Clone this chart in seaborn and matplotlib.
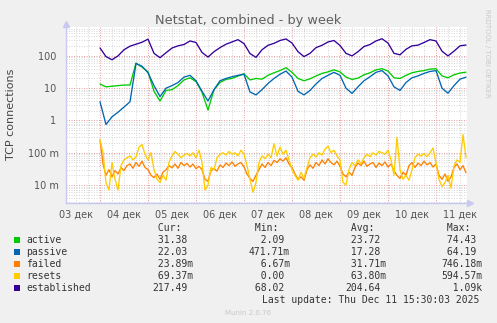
import numpy as np
import pandas as pd
import matplotlib
matplotlib.use('Agg')
import matplotlib.pyplot as plt
import matplotlib.dates as mdates
import matplotlib.ticker as mticker
from matplotlib.patches import Rectangle
import seaborn as sns

sns.set_theme(style='white')
plt.rcParams['font.family'] = ['DejaVu Sans']

# ---------------- data ----------------
start = pd.Timestamp('2025-12-04 00:00')
t_3h = pd.date_range(start, periods=62, freq='3h')
t_90m = pd.date_range(start, periods=123, freq='90min')

active = [13.5, 11, 11.5, 12, 12.5, 12.5, 60, 45, 32, 8, 4, 8.5, 9, 12, 18, 21,
          16, 7.5, 2.1, 9, 15, 18.7, 20, 23.7, 28, 18, 20, 19, 25, 30, 35, 43,
          31, 20, 17, 19.5, 24, 28.7, 32, 37, 32, 22, 18.7, 20.5, 26, 30, 37, 40,
          34, 21, 20, 25, 30, 33, 35, 39, 40, 24, 21, 26, 29.5, 31.4]
passive = [3.8, 0.75, 1.3, 1.8, 2.6, 3.8, 58, 48, 30, 12, 5.5, 10, 12, 15, 22, 25,
           17, 8, 4, 9, 17, 20, 22.6, 25, 27, 7.6, 6.2, 9, 14, 20, 27, 34,
           22, 8, 6.2, 8.5, 13.5, 20, 25, 31, 25, 10, 6.9, 11, 17, 22.6, 31, 35,
           24, 11, 8.5, 15, 21, 24, 28.7, 33, 35, 10, 7, 12, 19, 22]
established = [176, 95, 76, 100, 155, 200, 230, 265, 330, 120, 88, 125, 175, 205, 225, 290,
               260, 128, 92, 135, 180, 230, 270, 318, 240, 118, 90, 155, 213, 245, 300, 335,
               250, 135, 95, 120, 180, 213, 270, 300, 210, 120, 100, 135, 195, 225, 290, 340,
               250, 120, 108, 160, 205, 215, 260, 318, 290, 140, 100, 140, 205, 217]
failed = [0.25, 0.045, 0.02, 0.03, 0.018, 0.028, 0.022, 0.035, 0.028, 0.04, 0.045, 0.033,
          0.05, 0.038, 0.055, 0.035, 0.03, 0.02, 0.017, 0.022, 0.015, 0.025, 0.03, 0.04,
          0.034, 0.045, 0.033, 0.05, 0.04, 0.047, 0.036, 0.045, 0.032, 0.038, 0.03, 0.015,
          0.013, 0.028, 0.032, 0.027, 0.042, 0.035, 0.048, 0.04, 0.052, 0.038, 0.045, 0.05,
          0.036, 0.022, 0.016, 0.013, 0.02, 0.03, 0.045, 0.035, 0.05, 0.04, 0.058, 0.05,
          0.065, 0.055, 0.07, 0.045, 0.035, 0.022, 0.015, 0.018, 0.014, 0.03, 0.042, 0.033,
          0.05, 0.04, 0.06, 0.045, 0.065, 0.05, 0.042, 0.055, 0.038, 0.022, 0.018, 0.025,
          0.02, 0.035, 0.048, 0.04, 0.055, 0.038, 0.045, 0.05, 0.035, 0.048, 0.04, 0.052,
          0.036, 0.045, 0.028, 0.02, 0.016, 0.025, 0.02, 0.04, 0.05, 0.035, 0.048, 0.04,
          0.055, 0.042, 0.05, 0.036, 0.045, 0.02, 0.015, 0.022, 0.013, 0.018, 0.035, 0.045,
          0.03, 0.04, 0.024]
resets = [0.25, 0.1, 0.012, 0.007, 0.05, 0.015, 0.007, 0.04, 0.06, 0.07, 0.08, 0.06,
          0.075, 0.15, 0.18, 0.09, 0.06, 0.1, 0.03, 0.015, 0.012, 0.02, 0.014, 0.05,
          0.08, 0.11, 0.09, 0.07, 0.085, 0.095, 0.08, 0.1, 0.07, 0.12, 0.05, 0.007,
          0.01, 0.035, 0.03, 0.07, 0.09, 0.1, 0.085, 0.11, 0.09, 0.1, 0.08, 0.12,
          0.09, 0.04, 0.015, 0.006, 0.012, 0.05, 0.08, 0.065, 0.09, 0.07, 0.19, 0.08,
          0.15, 0.09, 0.12, 0.06, 0.03, 0.02, 0.014, 0.025, 0.016, 0.035, 0.07, 0.09,
          0.075, 0.1, 0.085, 0.13, 0.16, 0.1, 0.12, 0.08, 0.06, 0.012, 0.01, 0.03,
          0.05, 0.04, 0.06, 0.045, 0.07, 0.09, 0.075, 0.1, 0.085, 0.11, 0.1, 0.09,
          0.12, 0.06, 0.02, 0.3, 0.03, 0.015, 0.02, 0.014, 0.03, 0.07, 0.09, 0.08,
          0.095, 0.075, 0.1, 0.14, 0.05, 0.015, 0.009, 0.012, 0.02, 0.008, 0.04, 0.06,
          0.05, 0.37, 0.07]

series_names = ['active', 'passive', 'failed', 'resets', 'established']
series_colors = ['#00CC00', '#0066B3', '#FF8000', '#FFCC00', '#330099']
cur_vals = ['31.38', '22.03', '23.89m', '69.37m', '217.49']
min_vals = ['2.09', '471.71m', '6.67m', '0.00', '68.02']
avg_vals = ['23.72', '17.28', '31.71m', '63.80m', '204.64']
max_vals = ['74.43', '64.19', '746.18m', '594.57m', '1.09k']
day_labels = ['03 дек', '04 дек', '05 дек', '06 дек', '07 дек', '08 дек', '09 дек', '10 дек', '11 дек']
ytick_vals = [0.01, 0.1, 1, 10, 100]
ytick_labels = ['10 m', '100 m', '1 ', '10 ', '100 ']

# ---------------- figure ----------------
W, H = 497, 323
fig = plt.figure(figsize=(W / 100, H / 100), dpi=100, facecolor='#F0F0F0')
L, R, T, B = 66, 467, 27, 203
ax = fig.add_axes([L / W, 1 - B / H, (R - L) / W, (B - T) / H])
ax.set_facecolor('white')

series_data = [(t_3h, active), (t_3h, passive), (t_90m, failed), (t_90m, resets), (t_3h, established)]
for (tt, vv), c in zip(series_data, series_colors):
    sns.lineplot(x=tt, y=vv, color=c, lw=0.95, ax=ax, legend=False)

ax.set_yscale('log')
ax.set_ylim(0.00278, 785)
ax.set_xlim(pd.Timestamp('2025-12-03 07:00'), pd.Timestamp('2025-12-11 15:30'))

ax.yaxis.set_major_locator(mticker.FixedLocator(ytick_vals))
ax.yaxis.set_major_formatter(mticker.FixedFormatter(ytick_labels))
ax.yaxis.set_minor_locator(mticker.LogLocator(base=10, subs=np.arange(2, 10)))
ax.yaxis.set_minor_formatter(mticker.NullFormatter())

midnights = pd.date_range('2025-12-04', '2025-12-11', freq='D')
six_h = pd.date_range('2025-12-03 06:00', '2025-12-11 18:00', freq='6h')
six_h = [t for t in six_h if t.hour != 0]
noon_label = {pd.Timestamp(2025, 12, 3 + i, 12): lab for i, lab in enumerate(day_labels)}
ax.xaxis.set_major_locator(mticker.FixedLocator(mdates.date2num(midnights)))
ax.xaxis.set_major_formatter(mticker.NullFormatter())
ax.xaxis.set_minor_locator(mticker.FixedLocator(mdates.date2num(six_h)))
ax.xaxis.set_minor_formatter(mticker.FixedFormatter([noon_label.get(t, '') for t in six_h]))

ax.set_axisbelow(True)
ax.grid(which='minor', color='#D8D8D8', linestyle=(0, (1, 1.5)), lw=0.72)
ax.grid(which='major', color='#E8A0A0', linestyle=(0, (1, 1.5)), lw=0.72)

ax.tick_params(axis='both', which='both', labelsize=7, labelcolor='#555555')
ax.tick_params(axis='x', which='major', length=2, color='#E8A0A0', width=0.7, pad=3)
ax.tick_params(axis='x', which='minor', length=2, color='#C8C8C8', width=0.7, pad=3)
ax.tick_params(axis='y', which='major', length=2, color='#E8A0A0', width=0.7, pad=3)
ax.tick_params(axis='y', which='minor', length=0)

for s in ['top', 'right']:
    ax.spines[s].set_visible(False)
for s in ['left', 'bottom']:
    ax.spines[s].set_color('#C8C8F0')
    ax.spines[s].set_linewidth(1.0)
ax.plot([1.008], [0], marker='>', ms=4, color='#C8C8F0', transform=ax.transAxes, clip_on=False)
ax.plot([0], [1.015], marker='^', ms=4, color='#C8C8F0', transform=ax.transAxes, clip_on=False)
ax.set_xlabel('')
ax.set_ylabel('')


def ftext(xp, yp, s, **kw):
    return fig.text(xp / W, 1 - yp / H, s, **kw)


ftext(248.5, 24, 'Netstat, combined - by week', ha='center', va='baseline',
      fontsize=9.3, color='#606060')
ftext(11, 114, 'TCP connections', ha='center', va='center', rotation=90,
      fontsize=8, color='#444444')
ftext(487.5, 53, 'RRDTOOL / TOBI OETIKER', ha='center', va='center', rotation=270,
      fontsize=5, color='#C8C8C8')

mono = dict(family='DejaVu Sans Mono', fontsize=7, color='#333333', va='baseline', ha='left')
col_x = [152.3, 248.9, 345.3, 441.3]
headers = [' Cur:', ' Min:', ' Avg:', ' Max:']
for x0, h in zip(col_x, headers):
    ftext(x0, 231, h, **mono)


def fmt(v):
    if v[-1].isalpha():
        return v[:-1].rjust(6) + v[-1]
    return v.rjust(6)


row_y = [243, 255, 267, 279, 291]
for i, (name, c) in enumerate(zip(series_names, series_colors)):
    yb = row_y[i]
    fig.add_artist(Rectangle((14 / W, 1 - (yb - 0.3) / H), 6 / W, 6 / H,
                             transform=fig.transFigure, color=c, lw=0))
    ftext(26.3, yb, name, **mono)
    for x0, vals in zip(col_x, [cur_vals, min_vals, avg_vals, max_vals]):
        ftext(x0, yb, fmt(vals[i]), **mono)

ftext(261.7, 302.7, 'Last update: Thu Dec 11 15:30:03 2025', **mono)
ftext(248.5, 315, 'Munin 2.0.76', ha='center', va='baseline', fontsize=5, color='#C8C8C8')

fig.savefig('out.png', dpi=100, facecolor=fig.get_facecolor())
